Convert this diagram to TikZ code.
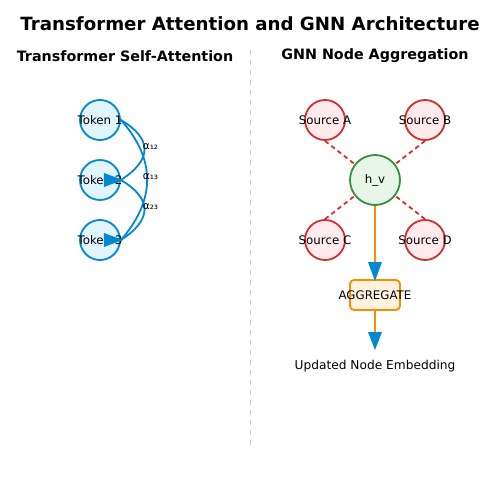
\documentclass[tikz,border=0pt]{standalone}
\usepackage{fontspec}
\setmainfont{DejaVu Sans}
\usetikzlibrary{calc}
\definecolor{tblue}{HTML}{0288D1}
\definecolor{tfill}{HTML}{E1F5FE}
\definecolor{sred}{HTML}{D32F2F}
\definecolor{sfill}{HTML}{FFEBEE}
\definecolor{hgreen}{HTML}{388E3C}
\definecolor{hfill}{HTML}{E8F5E9}
\definecolor{aorange}{HTML}{FB8C00}
\definecolor{afill}{HTML}{FFF3E0}
\definecolor{divgray}{HTML}{CCCCCC}
\begin{document}
\begin{tikzpicture}[x=1pt,y=-1pt,
  lbl/.style={inner sep=0pt,font=\fontsize{11.8}{13}\selectfont},
  tok/.style={circle,draw=tblue,fill=tfill,line width=1.8pt,minimum size=40pt,inner sep=0pt,label={[lbl]center:#1}},
  src/.style={circle,draw=sred,fill=sfill,line width=1.8pt,minimum size=40pt,inner sep=0pt,label={[lbl]center:#1}},
  hnode/.style={circle,draw=hgreen,fill=hfill,line width=1.8pt,minimum size=50pt,inner sep=0pt,label={[lbl]center:#1}},
  aggbox/.style={rectangle,rounded corners=4pt,draw=aorange,fill=afill,line width=1.8pt,minimum width=50pt,minimum height=30pt,inner sep=0pt,label={[lbl]center:#1}},
  attn/.style={draw=tblue,line width=1.8pt},
  msg/.style={draw=sred,line width=1.8pt,dash pattern=on 4.5pt off 3.5pt},
  flow/.style={draw=aorange,line width=1.8pt},
  head/.style={fill=tblue,draw=none},
  alab/.style={inner sep=0pt,font=\fontsize{10.5}{11}\selectfont},
  ttl/.style={inner sep=0pt,font=\fontsize{18.2}{20}\selectfont\bfseries},
  sub/.style={inner sep=0pt,font=\fontsize{14.3}{15}\selectfont\bfseries}]
\useasboundingbox (0,0) rectangle (500,500);
\fill[white] (0,0) rectangle (500,500);
% titles
\node[ttl] (title) at (250,24) {Transformer Attention and GNN Architecture};
\node[sub] (subL) at (125,56) {Transformer Self-Attention};
\node[sub] (subR) at (375,56) {GNN Node Aggregation};
% divider
\coordinate (dtop) at (250,50);
\coordinate (dbot) at (250,445);
\draw[divgray,line width=1pt,dash pattern=on 5pt off 5pt] (dtop) -- (dbot);
% left: tokens
\node[tok=Token 1] (t1) at (100,120) {};
\node[tok=Token 2] (t2) at (100,180) {};
\node[tok=Token 3] (t3) at (100,240) {};
\draw[attn] (t1.east) .. controls +(32,19) and +(31,-20) .. (t2.east);
\draw[attn] (t1.east) .. controls +(35,39) and +(35,-40) .. (t3.east);
\draw[attn] (t2.east) .. controls +(32,19) and +(31,-20) .. (t3.east);
\fill[head] ($(t2.east)+(-17,-7)$) -- ($(t2.east)+(2,0)$) -- ($(t2.east)+(-17,7)$) -- cycle;
\fill[head] ($(t3.east)+(-17,-7)$) -- ($(t3.east)+(2,0)$) -- ($(t3.east)+(-17,7)$) -- cycle;
\node[alab] (a12) at (150.5,147) {α₁₂};
\node[alab] (a13) at (150.5,177) {α₁₃};
\node[alab] (a23) at (150.5,207) {α₂₃};
% right: GNN
\node[src=Source A] (sa) at (325,120) {};
\node[src=Source B] (sb) at (425,120) {};
\node[src=Source C] (sc) at (325,240) {};
\node[src=Source D] (sd) at (425,240) {};
\draw[msg] (sa.south) -- (375,180);
\draw[msg] (sb.south) -- (375,180);
\draw[msg] (sc.north) -- (375,180);
\draw[msg] (sd.north) -- (375,180);
\node[hnode=h\_v] (hv) at (375,180) {};
\node[aggbox=AGGREGATE] (agg) at (375,295) {};
\coordinate (h1) at (375,281);
\coordinate (h2) at (375,350);
\draw[flow] (hv.south) -- ($(h1)+(0,-19)$);
\fill[head] ($(h1)+(-7,-19)$) -- (h1) -- ($(h1)+(7,-19)$) -- cycle;
\draw[flow] (agg.south) -- ($(h2)+(0,-18)$);
\fill[head] ($(h2)+(-7,-18)$) -- (h2) -- ($(h2)+(7,-18)$) -- cycle;
\node[inner sep=0pt,font=\fontsize{12.2}{13}\selectfont] (upd) at (375,366) {Updated Node Embedding};
\end{tikzpicture}
\end{document}
